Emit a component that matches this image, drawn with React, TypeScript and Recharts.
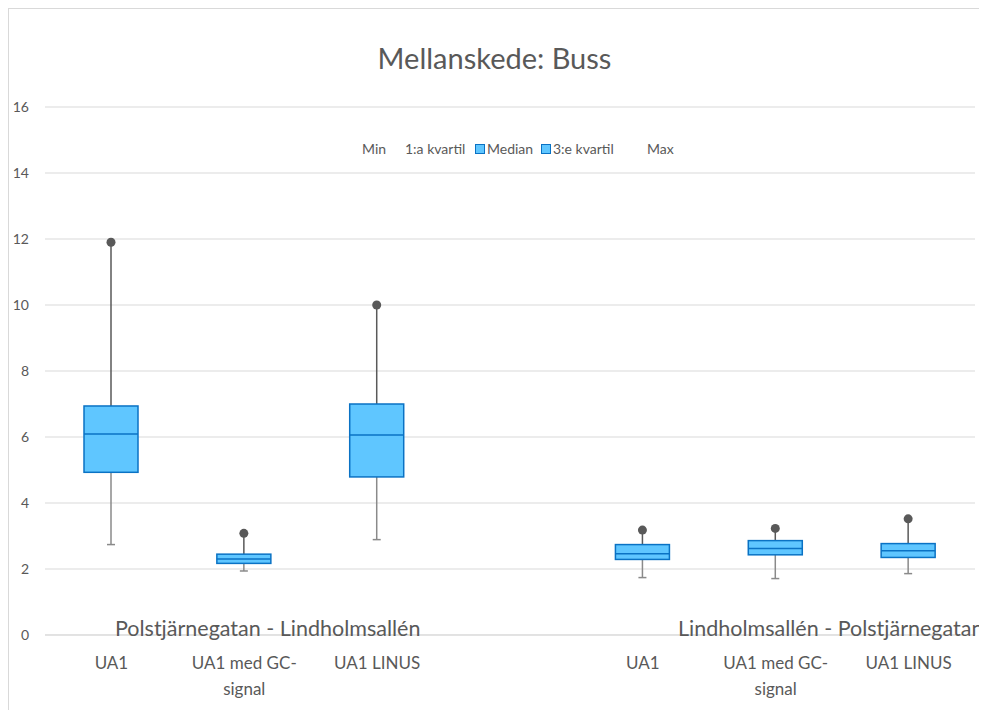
import { ComposedChart, Bar, XAxis, YAxis, CartesianGrid } from "recharts";

// Kategorier (tom plats mellan riktningarna)
const categories = ["UA1", "UA1 med GC-\nsignal", "UA1 LINUS", "", "UA1", "UA1 med GC-\nsignal", "UA1 LINUS"];
const groupLabels = ["Polstjärnegatan - Lindholmsallén", "Lindholmsallén - Polstjärnegatan"];

const minValues = [2.74, 1.94, 2.89, null, 1.74, 1.71, 1.86];
const q1Values = [4.93, 2.17, 4.79, null, 2.29, 2.43, 2.35];
const medianValues = [6.09, 2.3, 6.06, null, 2.46, 2.62, 2.55];
const q3Values = [6.94, 2.45, 7.0, null, 2.74, 2.86, 2.77];
const maxValues = [11.9, 3.08, 10.0, null, 3.18, 3.23, 3.52];

const yTicks = [0, 2, 4, 6, 8, 10, 12, 14, 16];
const legendItems = ["Min", "1:a kvartil", "Median", "3:e kvartil", "Max"];
const legendSwatch = [false, false, true, true, false];

const TEXT = "#595959";
const GRID = "#d9d9d9";
const FILL = "#5fc6ff";
const EDGE = "#0a72c4";
const FONT = "Lato, 'Open Sans', sans-serif";

const data = categories.map((c, i) => ({
  label: c,
  min: minValues[i],
  q1: q1Values[i],
  median: medianValues[i],
  q3: q3Values[i],
  max: maxValues[i],
  range: minValues[i] == null ? null : [minValues[i], maxValues[i]],
}));

function BoxShape(props: any) {
  const { x, y, width, height, payload } = props;
  if (!payload || payload.max == null) return null;
  const span = payload.max - payload.min;
  // y-position for a value, interpolated inside the bar the scale gave us
  const at = (v: number) => y + (height * (payload.max - v)) / span;
  const cx = x + width / 2;
  return (
    <g>
      <line x1={cx} x2={cx} y1={at(payload.q1)} y2={at(payload.min)} stroke="#8a8a8a" strokeWidth={1.5} />
      <line x1={cx - 4} x2={cx + 4} y1={at(payload.min)} y2={at(payload.min)} stroke="#8a8a8a" strokeWidth={1.5} />
      <line x1={cx} x2={cx} y1={at(payload.max)} y2={at(payload.q3)} stroke="#595959" strokeWidth={1.5} />
      <rect
        x={x}
        y={at(payload.q3)}
        width={width}
        height={at(payload.q1) - at(payload.q3)}
        fill={FILL}
        stroke={EDGE}
        strokeWidth={1.5}
      />
      <line x1={x} x2={x + width} y1={at(payload.median)} y2={at(payload.median)} stroke={EDGE} strokeWidth={1.5} />
      <circle cx={cx} cy={at(payload.max)} r={4.5} fill="#595959" />
    </g>
  );
}

function CategoryTick(props: any) {
  const { x, y, payload } = props;
  const lines = String(payload.value).split("\n");
  return (
    <g>
      {lines.map((l, i) => (
        <text key={i} x={x} y={y + 32 + i * 26} textAnchor="middle" fill={TEXT} fontSize={17} fontFamily={FONT}>
          {l}
        </text>
      ))}
    </g>
  );
}

export default function App() {
  const legendLeft = [350, 393, 475, 541, 635];
  return (
    <div style={{ position: "relative", width: 979, height: 702, overflow: "hidden" }}>
      <div
        style={{
          position: "relative",
          width: 971,
          height: 720,
          border: `1px solid ${GRID}`,
          background: "#fff",
          fontFamily: FONT,
          color: TEXT,
        }}
      >
        <div style={{ position: "absolute", top: 34, left: 0, width: "100%", textAlign: "center", fontSize: 29, lineHeight: "30px" }}>
          Mellanskede: Buss
        </div>
        {legendItems.map((name, i) => (
          <div
            key={name}
            style={{
              position: "absolute",
              top: 132,
              left: legendLeft[i] - 9,
              display: "flex",
              alignItems: "center",
              fontSize: 14,
              lineHeight: "16px",
              whiteSpace: "nowrap",
            }}
          >
            <span
              style={{
                display: "inline-block",
                width: 8,
                height: 8,
                marginRight: 2,
                background: legendSwatch[i] ? FILL : "transparent",
                border: `1px solid ${legendSwatch[i] ? EDGE : "transparent"}`,
              }}
            />
            {name}
          </div>
        ))}
        <ComposedChart width={971} height={710} data={data} margin={{ top: 98, right: 5, bottom: 0, left: 0 }}>
          <CartesianGrid horizontal vertical={false} stroke={GRID} />
          <YAxis
            domain={[0, 16]}
            ticks={yTicks}
            width={36}
            axisLine={false}
            tickLine={false}
            tickMargin={10}
            tick={{ fill: TEXT, fontSize: 14, fontFamily: FONT }}
          />
          <XAxis dataKey="label" height={84} axisLine={{ stroke: GRID }} tickLine={false} tickSize={0} tick={<CategoryTick />} interval={0} />
          <Bar dataKey="range" barSize={54} shape={<BoxShape />} isAnimationActive={false} />
        </ComposedChart>
      </div>
      {groupLabels.map((g, i) => (
        <div
          key={g}
          style={{
            position: "absolute",
            top: 609,
            left: i === 0 ? 107 : 670,
            fontSize: 21.5,
            lineHeight: "22px",
            whiteSpace: "nowrap",
            fontFamily: FONT,
            color: TEXT,
          }}
        >
          {g}
        </div>
      ))}
    </div>
  );
}
